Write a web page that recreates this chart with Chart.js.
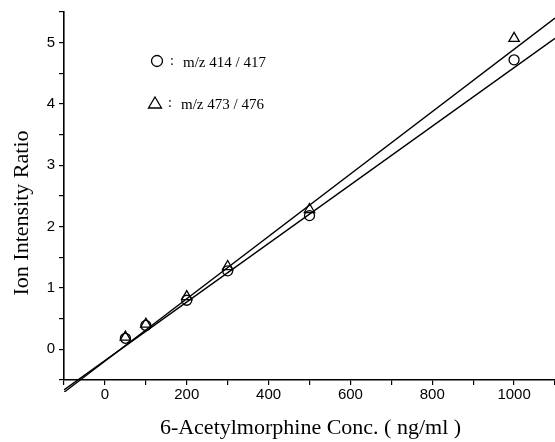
<!DOCTYPE html>
<html>
<head>
<meta charset="utf-8">
<script src="https://cdn.jsdelivr.net/npm/chart.js@4.4.1/dist/chart.umd.min.js"></script>
<style>
  html, body { margin: 0; padding: 0; background: #fff; }
  canvas { display: block; }
</style>
</head>
<body>
<canvas id="c" width="555" height="442"></canvas>
<script>
// ---- data ----
const concentrations = [50, 100, 200, 300, 500, 1000];          // ng/ml
const ratio414 = [0.18, 0.39, 0.80, 1.28, 2.18, 4.72];           // circles  m/z 414/417
const ratio473 = [0.20, 0.41, 0.86, 1.35, 2.28, 5.07];           // triangles m/z 473/476
const fitX = [-100, 1100];                                       // regression line ends
const fit414 = [-0.66, 5.07];
const fit473 = [-0.70, 5.40];
const xTickLabels = [0, 200, 400, 600, 800, 1000];
const yTickLabels = [0, 1, 2, 3, 4, 5];
const legendLabels = ['m/z 414 / 417', 'm/z 473 / 476'];
const xTitle = '6-Acetylmorphine Conc. ( ng/ml )';
const yTitle = 'Ion Intensity Ratio';

const pts = (xs, ys) => xs.map((x, i) => ({ x: x, y: ys[i] }));

const decorPlugin = {
  id: 'decor',
  afterDraw(chart) {
    const ctx = chart.ctx;
    ctx.save();
    ctx.fillStyle = '#000';
    ctx.strokeStyle = '#000';
    // axis titles
    ctx.font = '22px "Liberation Serif"';
    ctx.textAlign = 'center';
    ctx.textBaseline = 'alphabetic';
    const xs = chart.scales.x;
    ctx.fillText(xTitle, (xs.left + xs.right) / 2 + 1, 434);
    ctx.save();
    ctx.translate(28, 213);
    ctx.rotate(-Math.PI / 2);
    ctx.fillText(yTitle, 0, 0);
    ctx.restore();
    // legend
    ctx.lineWidth = 1.3;
    ctx.beginPath();
    ctx.arc(157, 61, 5.5, 0, Math.PI * 2);
    ctx.stroke();
    ctx.beginPath();
    ctx.moveTo(155, 97);
    ctx.lineTo(161.5, 108);
    ctx.lineTo(148.5, 108);
    ctx.closePath();
    ctx.stroke();
    ctx.textAlign = 'left';
    ctx.font = '14px "Liberation Serif"';
    ctx.fillText(':', 170, 65);
    ctx.fillText(':', 168, 107);
    ctx.font = '15px "Liberation Serif"';
    ctx.fillText(legendLabels[0], 183, 67);
    ctx.fillText(legendLabels[1], 181, 109);
    ctx.restore();
  }
};

const near = (v, list) => list.some(t => Math.abs(v - t) < 1e-6);

new Chart(document.getElementById('c'), {
  type: 'scatter',
  data: {
    datasets: [
      { label: 'fit 473', data: pts(fitX, fit473), showLine: true, borderColor: '#000', borderWidth: 1.4,
        pointRadius: 0, fill: false, clip: { left: 0, top: 0, right: 0, bottom: 12 } },
      { label: 'fit 414', data: pts(fitX, fit414), showLine: true, borderColor: '#000', borderWidth: 1.4,
        pointRadius: 0, fill: false, clip: { left: 0, top: 0, right: 0, bottom: 12 } },
      { label: legendLabels[0], data: pts(concentrations, ratio414), pointStyle: 'circle', pointRadius: 5,
        borderColor: '#000', backgroundColor: 'rgba(255,255,255,0)', borderWidth: 1.3, showLine: false },
      { label: legendLabels[1], data: pts(concentrations, ratio473), pointStyle: 'triangle', pointRadius: 6,
        borderColor: '#000', backgroundColor: 'rgba(255,255,255,0)', borderWidth: 1.3, showLine: false }
    ]
  },
  options: {
    responsive: false,
    animation: false,
    events: [],
    layout: { autoPadding: false, padding: { top: 12, right: 0, left: 0, bottom: 0 } },
    plugins: { legend: { display: false }, tooltip: { enabled: false } },
    scales: {
      x: {
        type: 'linear', min: -100, max: 1100,
        ticks: {
          stepSize: 100, autoSkip: false, maxRotation: 0, padding: 1, color: '#000',
          font: { family: 'Liberation Sans', size: 15 },
          callback: v => near(v, xTickLabels) ? String(Math.round(v)) : ''
        },
        grid: { drawOnChartArea: false, drawTicks: true, tickLength: 5, color: '#000', lineWidth: 1.2 },
        border: { display: true, color: '#000', width: 1.6 },
        afterFit: s => { s.height = 62; s.paddingLeft = 0; s.paddingRight = 0; }
      },
      y: {
        type: 'linear', min: -0.5, max: 5.5,
        ticks: {
          stepSize: 0.5, autoSkip: false, padding: 4, color: '#000',
          font: { family: 'Liberation Sans', size: 15 },
          callback: v => near(v, yTickLabels) ? String(Math.round(v)) : ''
        },
        grid: { drawOnChartArea: false, drawTicks: true, tickLength: 5, color: '#000', lineWidth: 1.2 },
        border: { display: true, color: '#000', width: 1.6 },
        afterFit: s => { s.width = 64; s.paddingTop = 0; s.paddingBottom = 0; }
      }
    }
  },
  plugins: [decorPlugin]
});
</script>
</body>
</html>
